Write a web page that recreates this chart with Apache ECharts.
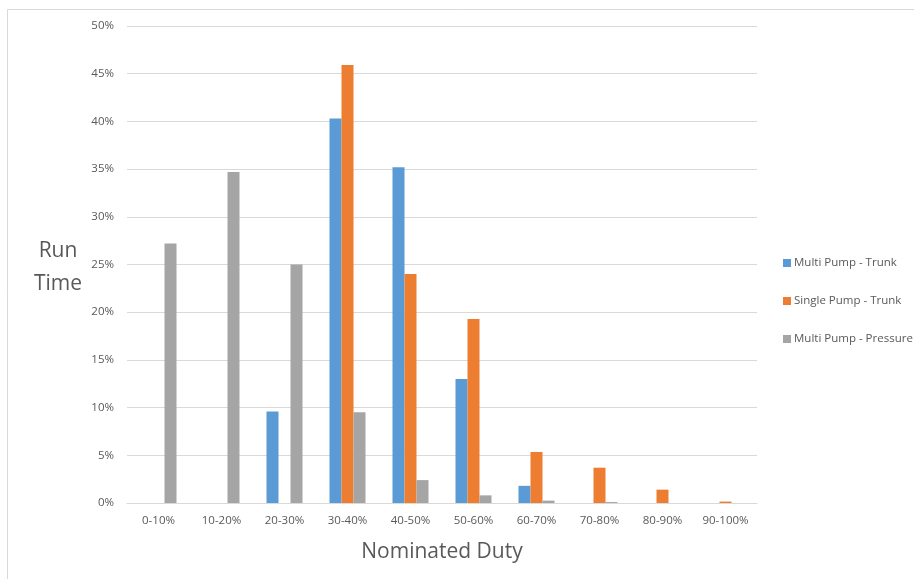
<!DOCTYPE html>
<html>
<head>
<meta charset="utf-8">
<script src="https://cdn.jsdelivr.net/npm/echarts@6/dist/echarts.min.js"></script>
<style>
html,body{margin:0;padding:0;background:#fff;}
#chart{width:914px;height:579px;}
</style>
</head>
<body>
<div id="chart"></div>
<script>
var categories = ['0-10%','10-20%','20-30%','30-40%','40-50%','50-60%','60-70%','70-80%','80-90%','90-100%'];
var multiTrunk = [0, 0, 9.6, 40.3, 35.2, 13.0, 1.8, 0, 0, 0];
var singleTrunk = [0, 0, 0, 45.9, 24.0, 19.3, 5.35, 3.7, 1.4, 0.15];
var multiPressure = [27.2, 34.7, 25.0, 9.5, 2.4, 0.8, 0.25, 0.1, 0, 0];
var seriesNames = ['Multi Pump - Trunk','Single Pump - Trunk','Multi Pump - Pressure'];
var yTicks = [0, 5, 10, 15, 20, 25, 30, 35, 40, 45, 50];

var font = 'Open Sans, Lato, Liberation Sans, sans-serif';
var chart = echarts.init(document.getElementById('chart'), null, {renderer:'canvas'});
var colors = ['#5b9bd5','#ed7d31','#a5a5a5'];
var data = [multiTrunk, singleTrunk, multiPressure];

chart.setOption({
  animation: false,
  backgroundColor: '#fff',
  color: colors,
  grid: {left:127, right:157, top:26, bottom:76, containLabel:false},
  legend: {
    orient: 'vertical',
    left: 778,
    top: 252,
    itemWidth: 8,
    itemHeight: 8,
    itemGap: 26,
    icon: 'rect',
    textStyle: {fontFamily: font, fontSize: 11.5, color: '#595959', padding:[0,0,0,-2]},
    data: seriesNames
  },
  xAxis: {
    type: 'category',
    data: categories,
    axisLine: {lineStyle: {color:'#d9d9d9', width:1}},
    axisTick: {show:false},
    axisLabel: {fontFamily: font, fontSize: 11.5, color:'#595959', margin: 12, interval:0}
  },
  yAxis: {
    type: 'value',
    min: yTicks[0],
    max: yTicks[yTicks.length-1],
    interval: 5,
    axisLine: {show:false},
    axisTick: {show:false},
    splitLine: {lineStyle: {color:'#d9d9d9', width:1}},
    axisLabel: {fontFamily: font, fontSize: 11.5, color:'#595959', margin: 13, formatter: '{value}%'}
  },
  series: seriesNames.map(function(n, i){
    return {
      name: n,
      type: 'bar',
      data: data[i],
      barWidth: 12,
      barGap: '0%',
      itemStyle: {color: colors[i]}
    };
  }),
  graphic: [
    {type:'line', shape:{x1:7.5, y1:9.5, x2:914, y2:9.5}, style:{stroke:'#d9d9d9', lineWidth:1}},
    {type:'line', shape:{x1:7.5, y1:9.5, x2:7.5, y2:579}, style:{stroke:'#d9d9d9', lineWidth:1}},
    {type:'text', style:{text:'Run\nTime', fontFamily: font, fontSize:21, fill:'#595959', align:'center', lineHeight:33, x:58, y:235}},
    {type:'text', style:{text:'Nominated Duty', fontFamily: font, fontSize:21, fill:'#595959', align:'center', x:442, y:542}}
  ]
});
</script>
</body>
</html>
